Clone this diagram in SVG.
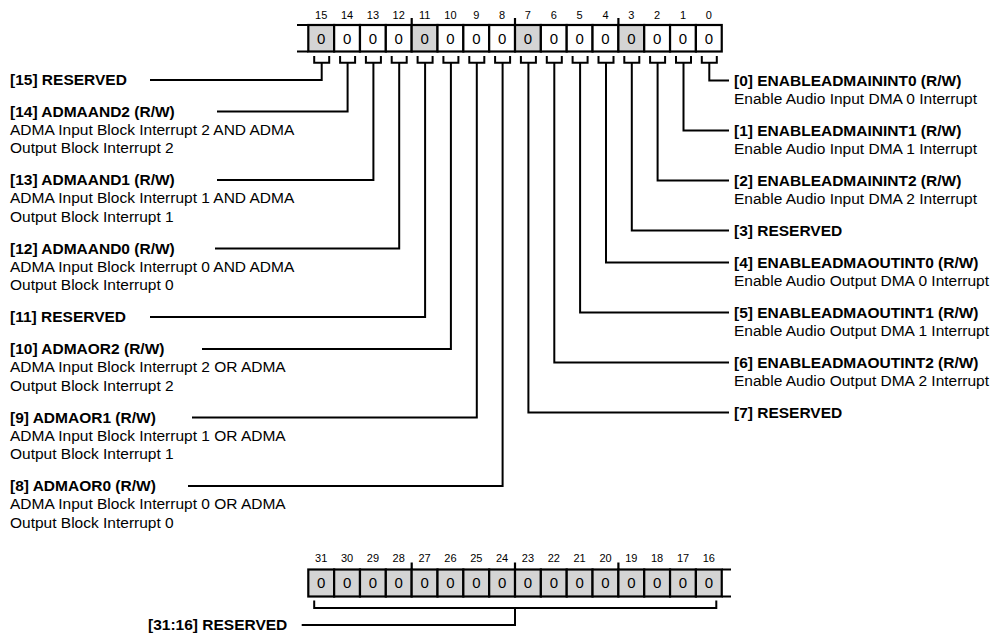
<svg xmlns="http://www.w3.org/2000/svg" width="993" height="636" viewBox="0 0 993 636">
<style>
.bg{fill:#fff}
.cell{fill:#fff;stroke:#000;stroke-width:2.2}
.cell.g{fill:#d4d4d4}
.ln{fill:none;stroke:#000;stroke-width:2}
.bn{font-family:"Liberation Sans",Arial,sans-serif;font-size:11px;fill:#000;text-anchor:middle}
.cv{font-family:"Liberation Sans",Arial,sans-serif;font-size:15px;fill:#000;text-anchor:middle}
.t{font-family:"Liberation Sans",Arial,sans-serif;font-size:15.5px;font-weight:bold;fill:#000}
.d{font-family:"Liberation Sans",Arial,sans-serif;font-size:15.5px;fill:#000}
</style>
<rect class="bg" x="0" y="0" width="993" height="636"/>

<g id="register-top">
  <path class="ln" d="M297 25H308.3M297 51.5H308.3M411.7 18V25M515 18V25M618.4 18V25" style="stroke-width:2.2"/>
  <rect class="cell g" x="308.3" y="25" width="25.84" height="26.5"/>
  <rect class="cell" x="334.14" y="25" width="25.84" height="26.5"/>
  <rect class="cell" x="359.98" y="25" width="25.84" height="26.5"/>
  <rect class="cell" x="385.82" y="25" width="25.84" height="26.5"/>
  <rect class="cell g" x="411.66" y="25" width="25.84" height="26.5"/>
  <rect class="cell" x="437.5" y="25" width="25.84" height="26.5"/>
  <rect class="cell" x="463.34" y="25" width="25.84" height="26.5"/>
  <rect class="cell" x="489.18" y="25" width="25.84" height="26.5"/>
  <rect class="cell g" x="515.02" y="25" width="25.84" height="26.5"/>
  <rect class="cell" x="540.86" y="25" width="25.84" height="26.5"/>
  <rect class="cell" x="566.7" y="25" width="25.84" height="26.5"/>
  <rect class="cell" x="592.54" y="25" width="25.84" height="26.5"/>
  <rect class="cell g" x="618.38" y="25" width="25.84" height="26.5"/>
  <rect class="cell" x="644.22" y="25" width="25.84" height="26.5"/>
  <rect class="cell" x="670.06" y="25" width="25.84" height="26.5"/>
  <rect class="cell" x="695.9" y="25" width="25.84" height="26.5"/>
  <g class="bn">
    <text x="321.2" y="18.5">15</text><text x="347.1" y="18.5">14</text><text x="372.9" y="18.5">13</text><text x="398.7" y="18.5">12</text>
    <text x="424.6" y="18.5">11</text><text x="450.4" y="18.5">10</text><text x="476.3" y="18.5">9</text><text x="502.1" y="18.5">8</text>
    <text x="527.9" y="18.5">7</text><text x="553.8" y="18.5">6</text><text x="579.6" y="18.5">5</text><text x="605.5" y="18.5">4</text>
    <text x="631.3" y="18.5">3</text><text x="657.1" y="18.5">2</text><text x="683.0" y="18.5">1</text><text x="708.8" y="18.5">0</text>
  </g>
  <g class="cv">
    <text x="321.2" y="44.3">0</text><text x="347.1" y="44.3">0</text><text x="372.9" y="44.3">0</text><text x="398.7" y="44.3">0</text>
    <text x="424.6" y="44.3">0</text><text x="450.4" y="44.3">0</text><text x="476.3" y="44.3">0</text><text x="502.1" y="44.3">0</text>
    <text x="527.9" y="44.3">0</text><text x="553.8" y="44.3">0</text><text x="579.6" y="44.3">0</text><text x="605.5" y="44.3">0</text>
    <text x="631.3" y="44.3">0</text><text x="657.1" y="44.3">0</text><text x="683.0" y="44.3">0</text><text x="708.8" y="44.3">0</text>
  </g>
</g>

<g id="register-bottom">
  <path class="ln" d="M721.74 569.5H731M721.74 596.5H731M411.7 562.5V569.5M515 562.5V569.5M618.4 562.5V569.5" style="stroke-width:2.2"/>
  <rect class="cell g" x="308.3" y="569.5" width="25.84" height="27"/>
  <rect class="cell g" x="334.14" y="569.5" width="25.84" height="27"/>
  <rect class="cell g" x="359.98" y="569.5" width="25.84" height="27"/>
  <rect class="cell g" x="385.82" y="569.5" width="25.84" height="27"/>
  <rect class="cell g" x="411.66" y="569.5" width="25.84" height="27"/>
  <rect class="cell g" x="437.5" y="569.5" width="25.84" height="27"/>
  <rect class="cell g" x="463.34" y="569.5" width="25.84" height="27"/>
  <rect class="cell g" x="489.18" y="569.5" width="25.84" height="27"/>
  <rect class="cell g" x="515.02" y="569.5" width="25.84" height="27"/>
  <rect class="cell g" x="540.86" y="569.5" width="25.84" height="27"/>
  <rect class="cell g" x="566.7" y="569.5" width="25.84" height="27"/>
  <rect class="cell g" x="592.54" y="569.5" width="25.84" height="27"/>
  <rect class="cell g" x="618.38" y="569.5" width="25.84" height="27"/>
  <rect class="cell g" x="644.22" y="569.5" width="25.84" height="27"/>
  <rect class="cell g" x="670.06" y="569.5" width="25.84" height="27"/>
  <rect class="cell g" x="695.9" y="569.5" width="25.84" height="27"/>
  <g class="bn">
    <text x="321.2" y="562">31</text><text x="347.1" y="562">30</text><text x="372.9" y="562">29</text><text x="398.7" y="562">28</text>
    <text x="424.6" y="562">27</text><text x="450.4" y="562">26</text><text x="476.3" y="562">25</text><text x="502.1" y="562">24</text>
    <text x="527.9" y="562">23</text><text x="553.8" y="562">22</text><text x="579.6" y="562">21</text><text x="605.5" y="562">20</text>
    <text x="631.3" y="562">19</text><text x="657.1" y="562">18</text><text x="683.0" y="562">17</text><text x="708.8" y="562">16</text>
  </g>
  <g class="cv">
    <text x="321.2" y="588.3">0</text><text x="347.1" y="588.3">0</text><text x="372.9" y="588.3">0</text><text x="398.7" y="588.3">0</text>
    <text x="424.6" y="588.3">0</text><text x="450.4" y="588.3">0</text><text x="476.3" y="588.3">0</text><text x="502.1" y="588.3">0</text>
    <text x="527.9" y="588.3">0</text><text x="553.8" y="588.3">0</text><text x="579.6" y="588.3">0</text><text x="605.5" y="588.3">0</text>
    <text x="631.3" y="588.3">0</text><text x="657.1" y="588.3">0</text><text x="683.0" y="588.3">0</text><text x="708.8" y="588.3">0</text>
  </g>
</g>

<g id="connectors">
  <path class="ln" d="M314.2 56V62.7H329.2V56M340.1 56V62.7H355.1V56M365.9 56V62.7H380.9V56M391.7 56V62.7H406.7V56M417.6 56V62.7H432.6V56M443.4 56V62.7H458.4V56M469.3 56V62.7H484.3V56M495.1 56V62.7H510.1V56M520.9 56V62.7H535.9V56M546.8 56V62.7H561.8V56M572.6 56V62.7H587.6V56M598.5 56V62.7H613.5V56M624.3 56V62.7H639.3V56M650.1 56V62.7H665.1V56M676.0 56V62.7H691.0V56M701.8 56V62.7H716.8V56"/>
  <path class="ln" d="M321.7 62.7V80H150"/>
  <path class="ln" d="M347.6 62.7V111.5H217"/>
  <path class="ln" d="M373.4 62.7V180H217"/>
  <path class="ln" d="M399.2 62.7V248.5H215"/>
  <path class="ln" d="M425.1 62.7V317H150"/>
  <path class="ln" d="M450.9 62.7V349H202"/>
  <path class="ln" d="M476.8 62.7V417.5H192"/>
  <path class="ln" d="M502.6 62.7V486H188"/>
  <path class="ln" d="M528.4 62.7V412.5H729"/>
  <path class="ln" d="M554.3 62.7V362.5H729"/>
  <path class="ln" d="M580.1 62.7V312.5H729"/>
  <path class="ln" d="M606.0 62.7V262.5H729"/>
  <path class="ln" d="M631.8 62.7V230.5H729"/>
  <path class="ln" d="M657.6 62.7V180.5H729"/>
  <path class="ln" d="M683.5 62.7V130.5H729"/>
  <path class="ln" d="M709.3 62.7V80.5H729"/>
  <path class="ln" d="M314.2 600.5V608H716.3V600.5M515 608V625H301.7"/>
</g>

<g id="field-15"><text class="t" x="10" y="85">[15] RESERVED</text></g>
<g id="field-14"><text class="t" x="10" y="116.5">[14] ADMAAND2 (R/W)</text><text class="d" x="10" y="134.8">ADMA Input Block Interrupt 2 AND ADMA</text><text class="d" x="10" y="153.1">Output Block Interrupt 2</text></g>
<g id="field-13"><text class="t" x="10" y="185">[13] ADMAAND1 (R/W)</text><text class="d" x="10" y="203.3">ADMA Input Block Interrupt 1 AND ADMA</text><text class="d" x="10" y="221.6">Output Block Interrupt 1</text></g>
<g id="field-12"><text class="t" x="10" y="253.5">[12] ADMAAND0 (R/W)</text><text class="d" x="10" y="271.8">ADMA Input Block Interrupt 0 AND ADMA</text><text class="d" x="10" y="290.1">Output Block Interrupt 0</text></g>
<g id="field-11"><text class="t" x="10" y="322">[11] RESERVED</text></g>
<g id="field-10"><text class="t" x="10" y="354">[10] ADMAOR2 (R/W)</text><text class="d" x="10" y="372.3">ADMA Input Block Interrupt 2 OR ADMA</text><text class="d" x="10" y="390.6">Output Block Interrupt 2</text></g>
<g id="field-9"><text class="t" x="10" y="422.5">[9] ADMAOR1 (R/W)</text><text class="d" x="10" y="440.8">ADMA Input Block Interrupt 1 OR ADMA</text><text class="d" x="10" y="459.1">Output Block Interrupt 1</text></g>
<g id="field-8"><text class="t" x="10" y="491">[8] ADMAOR0 (R/W)</text><text class="d" x="10" y="509.3">ADMA Input Block Interrupt 0 OR ADMA</text><text class="d" x="10" y="527.6">Output Block Interrupt 0</text></g>

<g id="field-0"><text class="t" x="734" y="85.5">[0] ENABLEADMAININT0 (R/W)</text><text class="d" x="734" y="103.8">Enable Audio Input DMA 0 Interrupt</text></g>
<g id="field-1"><text class="t" x="734" y="135.5">[1] ENABLEADMAININT1 (R/W)</text><text class="d" x="734" y="153.8">Enable Audio Input DMA 1 Interrupt</text></g>
<g id="field-2"><text class="t" x="734" y="185.5">[2] ENABLEADMAININT2 (R/W)</text><text class="d" x="734" y="203.8">Enable Audio Input DMA 2 Interrupt</text></g>
<g id="field-3"><text class="t" x="734" y="235.5">[3] RESERVED</text></g>
<g id="field-4"><text class="t" x="734" y="267.5">[4] ENABLEADMAOUTINT0 (R/W)</text><text class="d" x="734" y="285.8">Enable Audio Output DMA 0 Interrupt</text></g>
<g id="field-5"><text class="t" x="734" y="317.5">[5] ENABLEADMAOUTINT1 (R/W)</text><text class="d" x="734" y="335.8">Enable Audio Output DMA 1 Interrupt</text></g>
<g id="field-6"><text class="t" x="734" y="367.5">[6] ENABLEADMAOUTINT2 (R/W)</text><text class="d" x="734" y="385.8">Enable Audio Output DMA 2 Interrupt</text></g>
<g id="field-7"><text class="t" x="734" y="417.5">[7] RESERVED</text></g>

<g id="field-31-16"><text class="t" x="148" y="630">[31:16] RESERVED</text></g>
</svg>
